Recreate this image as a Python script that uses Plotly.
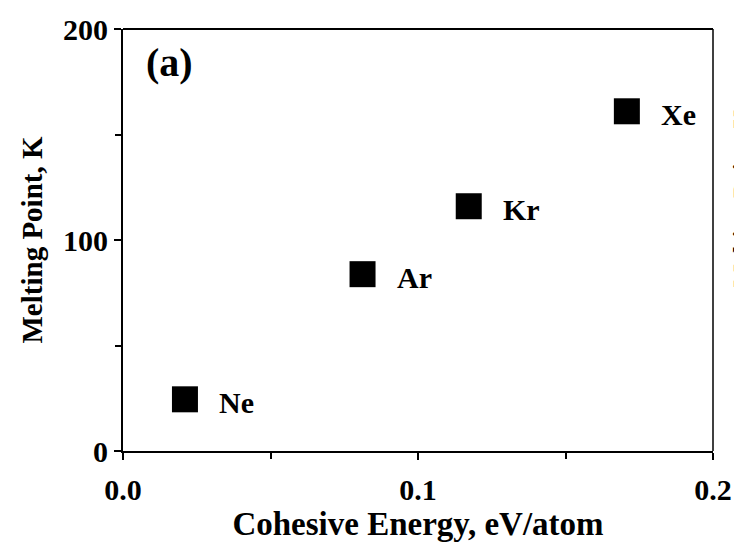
import plotly.graph_objects as go

elements = ["Ne", "Ar", "Kr", "Xe"]
cohesive_energy = [0.021, 0.0812, 0.1172, 0.1708]
melting_point = [24.5, 83.8, 116.0, 161.0]

x_ticks = [0.0, 0.1, 0.2]
x_tick_labels = ["0.0", "0.1", "0.2"]
y_ticks = [0, 100, 200]
y_tick_labels = ["0", "100", "200"]

FONT = "Liberation Serif"

fig = go.Figure()
fig.add_trace(go.Scatter(
    x=cohesive_energy, y=melting_point, mode="markers",
    marker=dict(symbol="square", size=26, color="black", line=dict(width=0)),
    showlegend=False, hoverinfo="skip"))

for e, x, y in zip(elements, cohesive_energy, melting_point):
    fig.add_annotation(x=x, y=y, text=f"<b>{e}</b>", showarrow=False,
                       xanchor="left", yanchor="middle", xshift=32, yshift=-3,
                       font=dict(family=FONT, size=30, color="black"))

fig.add_annotation(xref="paper", yref="paper", x=0.035, y=0.978, text="<b>(a)</b>",
                   showarrow=False, xanchor="left", yanchor="top",
                   font=dict(family=FONT, size=40, color="black"))

# cropped label of neighbouring panel at the right edge
fig.add_annotation(xref="paper", yref="paper", x=1.024, y=0.60, text="<b>Melting Point, K</b>",
                   showarrow=False, textangle=-90, xanchor="left", yanchor="middle",
                   font=dict(family=FONT, size=25, color="black"))

axis_common = dict(showgrid=False, zeroline=False, showline=True, linecolor="black",
                   linewidth=2, ticks="outside", tickcolor="black", tickwidth=2,
                   ticklen=7, mirror=False, automargin=False,
                   tickfont=dict(family=FONT, size=30, color="black"))

fig.update_xaxes(range=[0, 0.2], tickvals=x_ticks, ticktext=[f"<b>{t}</b>" for t in x_tick_labels],
                 ticklabelstandoff=4,
                 minor=dict(tickvals=[0.05, 0.15], ticklen=6, tickcolor="black", ticks="outside", tickwidth=1.5),
                 title=dict(text="<b>Cohesive Energy, eV/atom</b>", font=dict(family=FONT, size=33, color="black"), standoff=6),
                 **axis_common)
fig.update_yaxes(range=[0, 200], tickvals=y_ticks, ticktext=[f"<b>{t}</b>" for t in y_tick_labels],
                 minor=dict(tickvals=[50, 150], ticklen=6, tickcolor="black", ticks="outside", tickwidth=1.5),
                 title=dict(text="<b>Melting Point, K</b>", font=dict(family=FONT, size=29, color="black"), standoff=12),
                 **axis_common)

fig.add_shape(type="line", xref="paper", yref="paper", x0=0, x1=1, y0=1, y1=1,
              line=dict(color="black", width=2))
fig.add_shape(type="line", xref="paper", yref="paper", x0=1, x1=1, y0=0, y1=1,
              line=dict(color="black", width=1.5))

fig.update_layout(width=750, height=544, margin=dict(l=115, r=45, t=21, b=101),
                  plot_bgcolor="white", paper_bgcolor="white")

fig.write_html("out.html")
